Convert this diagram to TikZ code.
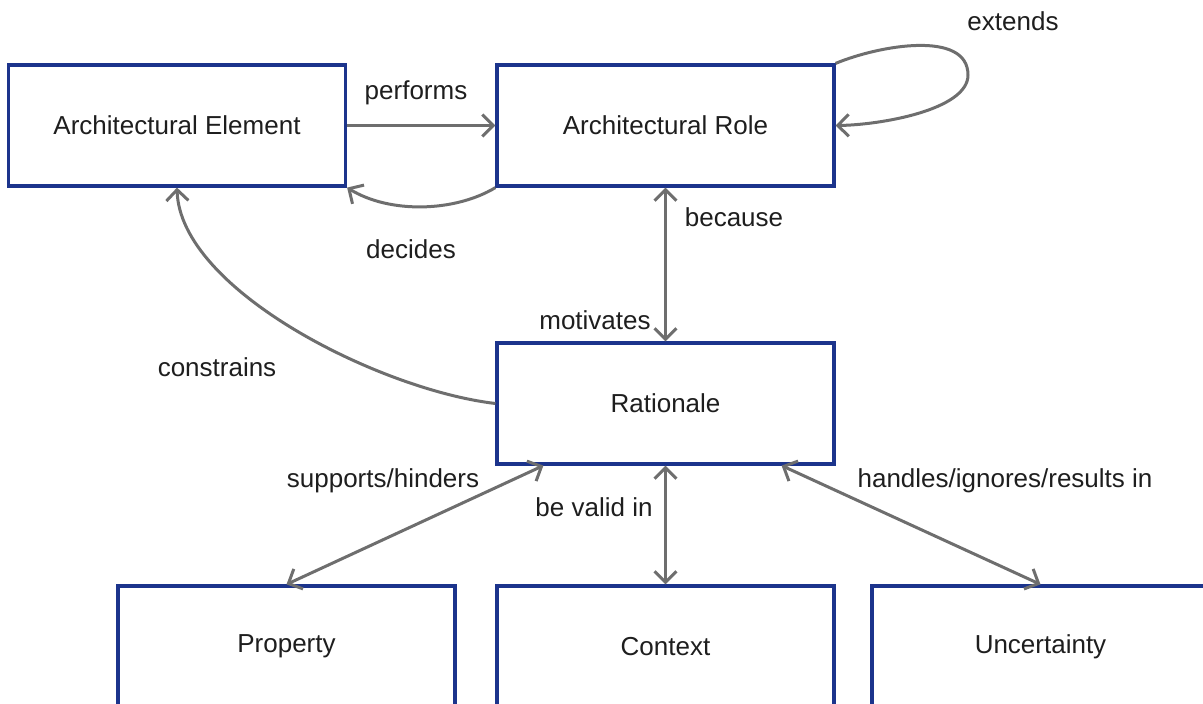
\documentclass[tikz,border=0pt]{standalone}
\usepackage{fontspec}
\setmainfont{Liberation Sans}
\usetikzlibrary{arrows.meta}
\definecolor{boxblue}{RGB}{28,52,140}
\definecolor{linkgray}{RGB}{110,110,110}
\definecolor{txt}{RGB}{30,30,30}
\begin{document}
\begin{tikzpicture}[x=1pt,y=-1pt,
  every node/.style={text=txt,font=\fontsize{26}{31}\selectfont},
  entity/.style={draw=boxblue,line width=3.2pt,fill=white,
    minimum width=337pt,minimum height=121pt,inner sep=0pt},
  link/.style={draw=linkgray,line width=3pt,
    arrows={-Straight Barb[length=11pt,width=22pt]}},
  twoway/.style={link,arrows={Straight Barb[length=11pt,width=22pt]-Straight Barb[length=11pt,width=22pt]}},
  tag/.style={inner sep=0pt}]
\useasboundingbox (0,0) rectangle (1203,704);
\begin{scope}
\clip (0,0) rectangle (1203,704);
% entities
\node[entity] (ae)   at (177,125.5)    {Architectural Element};
\node[entity] (role) at (665.5,125.5)  {Architectural Role};
\node[entity] (rat)  at (665.5,403.5)  {Rationale};
\node[entity] (prop) at (286.5,646.5)  {Property};
\node[entity] (ctx)  at (665.5,646.5)  {Context};
\node[entity] (unc)  at (1040.5,646.5) {Uncertainty};

% relations
\draw[link] (ae.east) -- (role.west);
\draw[link] (role.south west) .. controls (455,212) and (390,214) .. (ae.south east);
\draw[link] (role.north east) .. controls (880,45) and (968,30) .. (968,75)
            .. controls (968,110) and (880,125) .. (role.east);
\draw[twoway] (role.south) -- (rat.north);
\draw[link] (rat.west) .. controls (380,390) and (180,290) .. (ae.south);
\draw[twoway] ([xshift=48pt]rat.south west) -- (prop.north);
\draw[twoway] (rat.south) -- (ctx.north);
\draw[twoway] ([xshift=-54pt]rat.south east) -- (unc.north);

% relation labels
\node[tag] (lperf)  at (416,93)   {performs};
\node[tag] (ldec)   at (411,249)  {decides};
\node[tag] (lext)   at (1013,21)  {extends};
\node[tag] (lbec)   at (734,217)  {because};
\node[tag] (lmot)   at (595,320)  {motivates};
\node[tag] (lcon)   at (217,367)  {constrains};
\node[tag] (lsup)   at (383,481)  {supports/hinders};
\node[tag] (lval)   at (594,507)  {be valid in};
\node[tag] (lhan)   at (1005,481) {handles/ignores/results in};
\end{scope}
\end{tikzpicture}
\end{document}
